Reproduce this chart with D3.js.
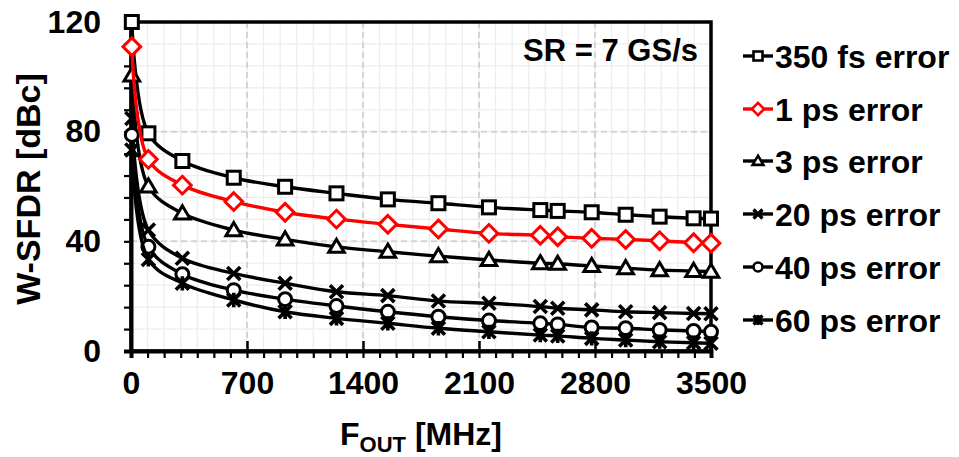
<!DOCTYPE html>
<html>
<head>
<meta charset="utf-8">
<script src="https://cdn.jsdelivr.net/npm/d3@7"></script>
<style>
  body { margin: 0; background: #fff; }
  text { font-family: "Liberation Sans", Arial, sans-serif; font-weight: bold; fill: #000; }
</style>
</head>
<body>
<script>
// sample frequencies (MHz)
var freq = [5, 105, 310, 620, 930, 1240, 1550, 1855, 2160, 2470, 2575, 2780, 2985, 3190, 3395, 3500];

// W-SFDR (dBc) per timing error
var err350fs = [120, 79.4, 69.3, 63.2, 59.9, 57.5, 55.3, 53.9, 52.4, 51.4, 51.1, 50.6, 49.7, 49.0, 48.4, 48.3];
var err1ps   = [111, 69.9, 60.5, 54.5, 50.6, 48.1, 46.2, 44.5, 42.9, 42.2, 41.7, 41.1, 40.7, 40.2, 39.5, 39.3];
var err3ps   = [100.5, 60, 50.2, 44.1, 40.7, 38.0, 36.2, 34.6, 33.2, 32.0, 31.8, 31.0, 30.2, 29.5, 29.2, 28.9];
var err20ps  = [84.8, 44.1, 33.8, 28.3, 24.7, 21.6, 20.2, 18.2, 17.4, 16.2, 15.6, 15.0, 14.3, 14.0, 13.7, 13.6];
var err40ps  = [78.8, 38.0, 28.0, 22.2, 18.9, 16.4, 14.3, 12.5, 11.1, 10.1, 9.7, 8.6, 8.3, 7.7, 7.3, 7.0];
var err60ps  = [73.3, 33.4, 24.7, 18.6, 14.3, 11.9, 10.1, 8.3, 7.0, 5.8, 5.5, 4.6, 4.0, 3.4, 3.0, 2.8];

var xTicks = [0, 700, 1400, 2100, 2800, 3500];
var yTicks = [0, 40, 80, 120];

var series = [
  {name: "350 fs error", values: err350fs, color: "#000", marker: "square"},
  {name: "1 ps error",   values: err1ps,   color: "#ff0000", marker: "diamond"},
  {name: "3 ps error",   values: err3ps,   color: "#000", marker: "triangle"},
  {name: "20 ps error",  values: err20ps,  color: "#000", marker: "cross"},
  {name: "40 ps error",  values: err40ps,  color: "#000", marker: "circle"},
  {name: "60 ps error",  values: err60ps,  color: "#000", marker: "star"}
];

var W = 959, H = 457;
var pL = 131, pR = 711, pT = 22, pB = 351;

var svg = d3.select("body").append("svg")
    .attr("width", W)
    .attr("height", H);

var x = d3.scaleLinear().domain([0, 3500]).range([pL, pR]);
var y = d3.scaleLinear().domain([0, 120]).range([pB, pT]);

// minor grid
var g = svg.append("g");
g.selectAll(".gxm").data(d3.range(100, 3500, 100)).enter().append("line")
    .attr("x1", function(d) { return x(d); }).attr("x2", function(d) { return x(d); })
    .attr("y1", pT).attr("y2", pB)
    .attr("stroke", "#ececec").attr("stroke-width", 1.2);
g.selectAll(".gym").data(d3.range(8, 120, 8)).enter().append("line")
    .attr("x1", pL).attr("x2", pR)
    .attr("y1", function(d) { return y(d); }).attr("y2", function(d) { return y(d); })
    .attr("stroke", "#ececec").attr("stroke-width", 1.2);
// major grid dashed
g.selectAll(".gx").data(xTicks.slice(1, -1)).enter().append("line")
    .attr("x1", function(d) { return x(d); }).attr("x2", function(d) { return x(d); })
    .attr("y1", pT).attr("y2", pB)
    .attr("stroke", "#d4d4d4").attr("stroke-width", 2).attr("stroke-dasharray", "6,4");
g.selectAll(".gy").data(yTicks.slice(1, -1)).enter().append("line")
    .attr("x1", pL).attr("x2", pR)
    .attr("y1", function(d) { return y(d); }).attr("y2", function(d) { return y(d); })
    .attr("stroke", "#d4d4d4").attr("stroke-width", 2).attr("stroke-dasharray", "6,4");

// border
svg.append("rect")
    .attr("x", pL).attr("y", pT)
    .attr("width", pR - pL).attr("height", pB - pT)
    .attr("fill", "none").attr("stroke", "#000").attr("stroke-width", 3.5);

// x axis ticks
var xAxis = d3.axisBottom(x)
    .tickValues(d3.range(0, 3501, 100))
    .tickSize(7)
    .tickFormat("");
var xa = svg.append("g").attr("transform", "translate(0," + pB + ")").call(xAxis);
xa.select(".domain").attr("stroke-width", 4);
xa.selectAll(".tick line").attr("stroke-width", 2.2);

var xMajor = d3.axisBottom(x).tickValues(xTicks).tickSize(-10).tickFormat(d3.format("d"));
var xm = svg.append("g").attr("transform", "translate(0," + pB + ")").call(xMajor);
xm.select(".domain").remove();
xm.selectAll(".tick line").attr("stroke-width", 2.5);
xm.selectAll("text").style("font-size", "32px").attr("dy", "0.71em").attr("y", 20);

// y axis ticks
var yAxis = d3.axisLeft(y).tickValues(d3.range(0, 121, 8)).tickSize(7).tickFormat("");
var ya = svg.append("g").attr("transform", "translate(" + pL + ",0)").call(yAxis);
ya.select(".domain").attr("stroke-width", 4);
ya.selectAll(".tick line").attr("stroke-width", 2.2);

var yMajor = d3.axisLeft(y).tickValues(yTicks).tickSize(0).tickFormat(d3.format("d"));
var ym = svg.append("g").attr("transform", "translate(" + pL + ",0)").call(yMajor);
ym.select(".domain").remove();
ym.selectAll("text").style("font-size", "32px").attr("x", -30);

// axis titles
svg.append("text")
    .attr("transform", "translate(40," + 189 + ") rotate(-90)")
    .attr("text-anchor", "middle")
    .style("font-size", "34px")
    .text("W-SFDR [dBc]");

var xt = svg.append("text")
    .attr("x", 421).attr("y", 445)
    .attr("text-anchor", "middle")
    .style("font-size", "32px");
xt.append("tspan").text("F");
xt.append("tspan").attr("dy", 7).style("font-size", "22px").text("OUT");
xt.append("tspan").attr("dy", -7).text(" [MHz]");

svg.append("text")
    .attr("x", 698).attr("y", 61)
    .attr("text-anchor", "end")
    .style("font-size", "31px")
    .text("SR = 7 GS/s");

// markers
function drawMarker(sel, type, s, color, sw) {
  if (type === "square") {
    sel.append("rect").attr("x", -s / 2).attr("y", -s / 2).attr("width", s).attr("height", s)
      .attr("fill", "#fff").attr("stroke", color).attr("stroke-width", sw);
  } else if (type === "diamond") {
    var r = s * 0.68;
    sel.append("path").attr("d", "M0," + (-r) + "L" + r + ",0L0," + r + "L" + (-r) + ",0Z")
      .attr("fill", "#fff").attr("stroke", color).attr("stroke-width", sw);
  } else if (type === "triangle") {
    var h = s * 0.95;
    sel.append("path").attr("d", "M0," + (-h * 0.62) + "L" + (s * 0.6) + "," + (h * 0.45) + "L" + (-s * 0.6) + "," + (h * 0.45) + "Z")
      .attr("fill", "#fff").attr("stroke", color).attr("stroke-width", sw);
  } else if (type === "circle") {
    sel.append("circle").attr("r", s / 2)
      .attr("fill", "#fff").attr("stroke", color).attr("stroke-width", sw);
  } else if (type === "cross") {
    var c = s / 2;
    sel.append("path").attr("d", "M" + (-c) + "," + (-c) + "L" + c + "," + c + "M" + c + "," + (-c) + "L" + (-c) + "," + c)
      .attr("stroke", color).attr("stroke-width", sw + 0.6);
  } else if (type === "star") {
    var a = s / 2;
    sel.append("path").attr("d", "M" + (-a) + "," + (-a) + "L" + a + "," + a + "M" + a + "," + (-a) + "L" + (-a) + "," + a + "M0," + (-a * 1.1) + "L0," + (a * 1.1))
      .attr("stroke", color).attr("stroke-width", sw + 0.6);
  }
}

var line = d3.line()
    .x(function(d) { return x(d[0]); })
    .y(function(d) { return y(d[1]); })
    .curve(d3.curveCatmullRom.alpha(0.5));

var order = [0, 2, 3, 4, 5, 1];
order.forEach(function(i) {
  var s = series[i];
  var pts = freq.map(function(f, j) { return [f, s.values[j]]; });
  svg.append("path")
      .datum(pts)
      .attr("d", line)
      .attr("fill", "none")
      .attr("stroke", s.color)
      .attr("stroke-width", 3.4);
  svg.append("g").selectAll("g").data(pts).enter().append("g")
      .attr("transform", function(d) { return "translate(" + x(d[0]) + "," + y(d[1]) + ")"; })
      .each(function() { drawMarker(d3.select(this), s.marker, 13, s.color, 3); });
});

// legend
var legY = [56, 109, 161, 214, 267, 320];
series.forEach(function(s, i) {
  var lg = svg.append("g").attr("transform", "translate(743," + legY[i] + ")");
  lg.append("line").attr("x1", 0).attr("x2", 30).attr("stroke", s.color).attr("stroke-width", 3.4);
  var m = lg.append("g").attr("transform", "translate(15,0)");
  drawMarker(m, s.marker, 9, s.color, 2.6);
  lg.append("text").attr("x", 32).attr("y", 0).attr("dy", "0.36em")
    .style("font-size", "32px").text(s.name);
});
</script>
</body>
</html>
